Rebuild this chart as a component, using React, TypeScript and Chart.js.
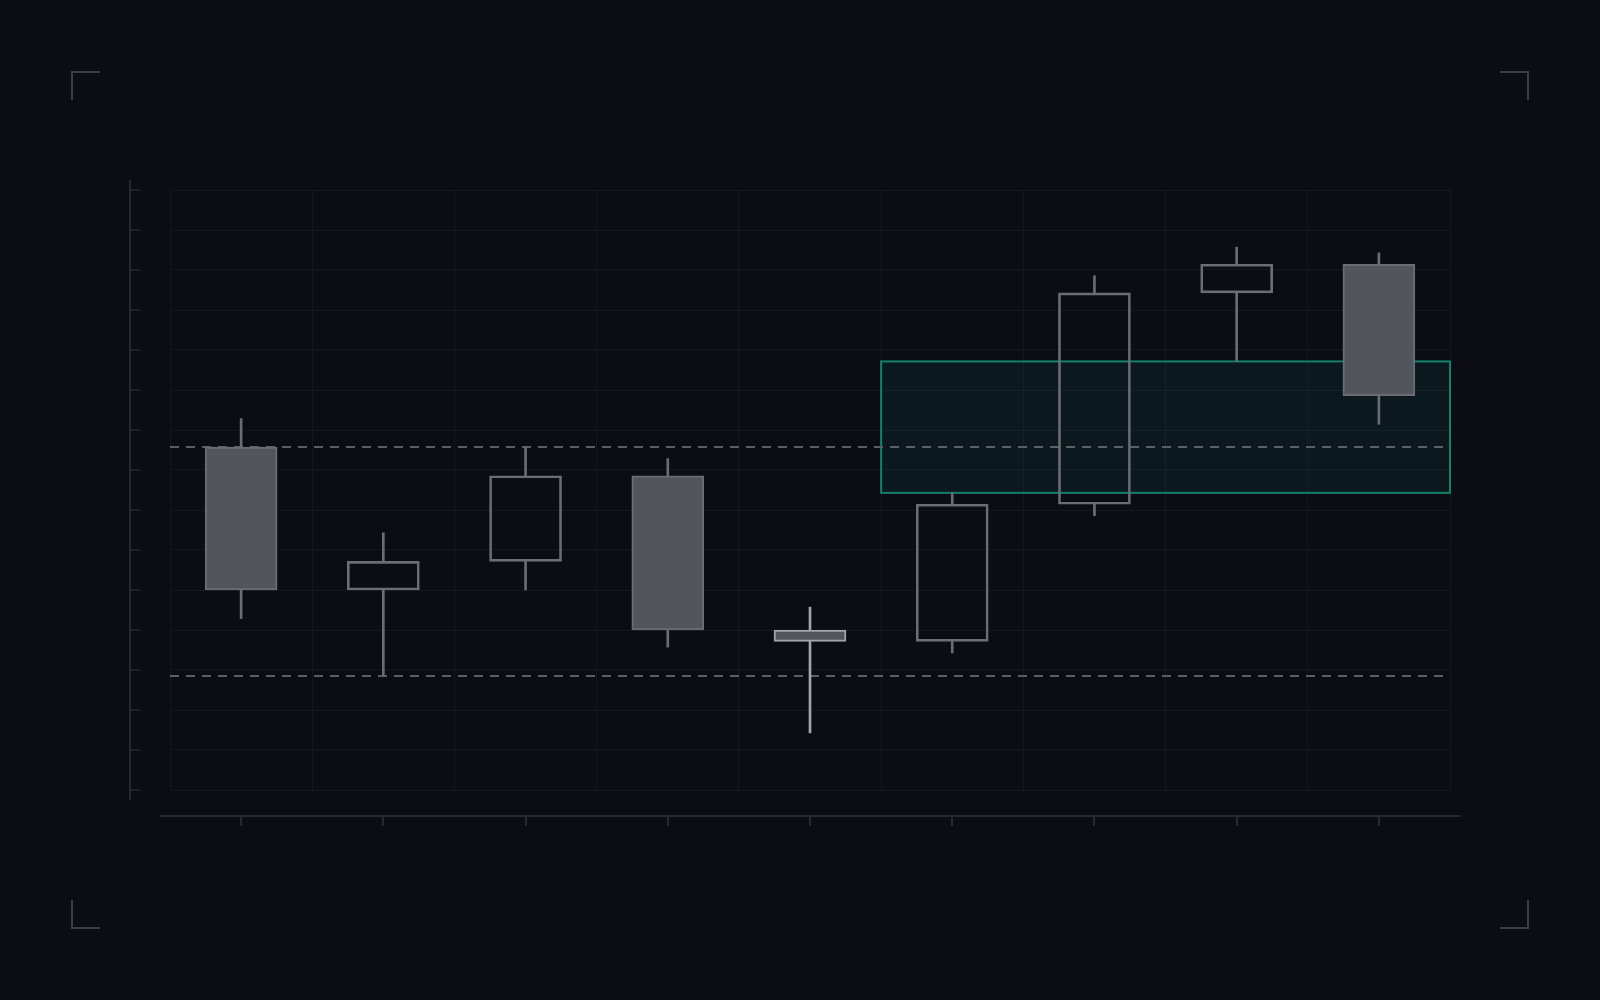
import { useEffect, useRef } from 'react';
import Chart from 'chart.js/auto';

// candles, left to right
const labels = ['C1', 'C2', 'C3', 'C4', 'C5', 'C6', 'C7', 'C8', 'C9'];
const opens = [112, 107, 108, 111, 105.6, 105.2, 110, 117.4, 118.4];
const highs = [113, 109, 112, 111.6, 106.4, 110.4, 118, 119, 118.8];
const lows = [106, 104, 107, 105, 102, 104.8, 109.6, 115, 112.8];
const closes = [107, 108, 111, 105.6, 105.2, 110, 117.4, 118.4, 113.8];

// reference levels and the highlighted zone
const resistance = 112;
const support = 104;
const zoneLow = 110.4;
const zoneHigh = 115;
const zoneFrom = 5; // first candle index inside the zone
const highlighted = 4;

const Y_MIN = 100;
const Y_MAX = 121;

const BG = '#0b0d12';
const GRID = '#15171d';
const AXIS = '#252930';
const CANDLE = '#6a6d74';
const CANDLE_HI = '#a2a5ac';
const BODY_FILL = '#52555c';

const candlePlugin = {
  id: 'candleDecor',
  beforeDatasetsDraw(chart: Chart) {
    const { ctx, chartArea } = chart;
    const x = chart.scales.x;
    const y = chart.scales.y;
    ctx.save();
    // zone box
    const x0 = x.getPixelForValue(zoneFrom - 0.5);
    const x1 = x.getPixelForValue(labels.length - 0.5);
    const y0 = y.getPixelForValue(zoneHigh);
    const y1 = y.getPixelForValue(zoneLow);
    ctx.fillStyle = 'rgba(20, 140, 140, 0.1)';
    ctx.fillRect(x0, y0, x1 - x0, y1 - y0);
    ctx.strokeStyle = '#13806a';
    ctx.lineWidth = 2;
    ctx.strokeRect(x0, y0, x1 - x0, y1 - y0);
    // dashed levels
    ctx.setLineDash([9, 7]);
    ctx.strokeStyle = '#5a5e65';
    ctx.lineWidth = 2;
    for (const lvl of [resistance, support]) {
      const py = Math.round(y.getPixelForValue(lvl));
      ctx.beginPath();
      ctx.moveTo(chartArea.left, py);
      ctx.lineTo(chartArea.right, py);
      ctx.stroke();
    }
    ctx.restore();
  },
  afterDraw(chart: Chart) {
    const { ctx, chartArea } = chart;
    const x = chart.scales.x;
    const y = chart.scales.y;
    ctx.save();
    ctx.strokeStyle = AXIS;
    // detached y axis
    const ax = chartArea.left - 40;
    ctx.lineWidth = 2;
    ctx.beginPath();
    ctx.moveTo(ax, chartArea.top - 10);
    ctx.lineTo(ax, chartArea.bottom + 10);
    ctx.stroke();
    ctx.lineWidth = 1.5;
    y.ticks.forEach((_t, i) => {
      const py = y.getPixelForTick(i);
      ctx.beginPath();
      ctx.moveTo(ax, py);
      ctx.lineTo(ax + 10, py);
      ctx.stroke();
    });
    // detached x axis
    const ay = chartArea.bottom + 26;
    ctx.lineWidth = 2;
    ctx.beginPath();
    ctx.moveTo(chartArea.left - 10, ay);
    ctx.lineTo(chartArea.right + 10, ay);
    ctx.stroke();
    x.ticks.forEach((_t, i) => {
      const px = Math.round(x.getPixelForTick(i));
      ctx.beginPath();
      ctx.moveTo(px, ay);
      ctx.lineTo(px, ay + 10);
      ctx.stroke();
    });
    ctx.restore();
  },
};

function CandleChart() {
  const canvasRef = useRef<HTMLCanvasElement>(null);

  useEffect(() => {
    const canvas = canvasRef.current;
    if (!canvas) return;

    const bodyTop = opens.map((o, i) => Math.max(o, closes[i]));
    const bodyBot = opens.map((o, i) => Math.min(o, closes[i]));
    const lineColors = labels.map((_l, i) => (i === highlighted ? CANDLE_HI : CANDLE));
    const fills = opens.map((o, i) => (closes[i] < o ? BODY_FILL : 'rgba(0,0,0,0)'));

    const chart = new Chart(canvas, {
      type: 'bar',
      data: {
        labels,
        datasets: [
          {
            label: 'upper wick',
            data: highs.map((h, i) => [bodyTop[i], h]),
            backgroundColor: lineColors,
            barThickness: 2,
            grouped: false,
            borderWidth: 0,
          },
          {
            label: 'lower wick',
            data: lows.map((l, i) => [l, bodyBot[i]]),
            backgroundColor: lineColors,
            barThickness: 2,
            grouped: false,
            borderWidth: 0,
          },
          {
            label: 'body',
            data: opens.map((o, i) => [o, closes[i]]),
            backgroundColor: fills,
            borderColor: lineColors,
            borderWidth: 2,
            borderSkipped: false,
            barThickness: 72,
            grouped: false,
          },
        ],
      },
      options: {
        responsive: false,
        animation: false,
        layout: { padding: { left: 170, top: 190, right: 150, bottom: 210 } },
        plugins: { legend: { display: false }, tooltip: { enabled: false } },
        scales: {
          x: {
            offset: true,
            ticks: { display: false },
            grid: { color: GRID, lineWidth: 1, drawTicks: false, offset: true },
            border: { display: false },
          },
          y: {
            min: Y_MIN,
            max: Y_MAX,
            ticks: { display: false, count: 16 },
            grid: { color: GRID, lineWidth: 1, drawTicks: false },
            border: { display: false },
          },
        },
      },
      plugins: [candlePlugin],
    });

    return () => chart.destroy();
  }, []);

  return <canvas ref={canvasRef} width={1600} height={1000} style={{ display: 'block' }} />;
}

const bracket = (pos: React.CSSProperties): React.CSSProperties => ({
  position: 'absolute',
  boxSizing: 'border-box',
  width: 29,
  height: 29,
  borderColor: '#3a3e46',
  borderStyle: 'solid',
  borderWidth: 0,
  ...pos,
});

export default function App() {
  return (
    <div style={{ position: 'fixed', left: 0, top: 0, width: 1600, height: 1000, background: BG, overflow: 'hidden' }}>
      <CandleChart />
      <div style={bracket({ left: 71, top: 71, borderTopWidth: 2, borderLeftWidth: 2 })} />
      <div style={bracket({ left: 1500, top: 71, borderTopWidth: 2, borderRightWidth: 2 })} />
      <div style={bracket({ left: 71, top: 900, borderBottomWidth: 2, borderLeftWidth: 2 })} />
      <div style={bracket({ left: 1500, top: 900, borderBottomWidth: 2, borderRightWidth: 2 })} />
    </div>
  );
}
